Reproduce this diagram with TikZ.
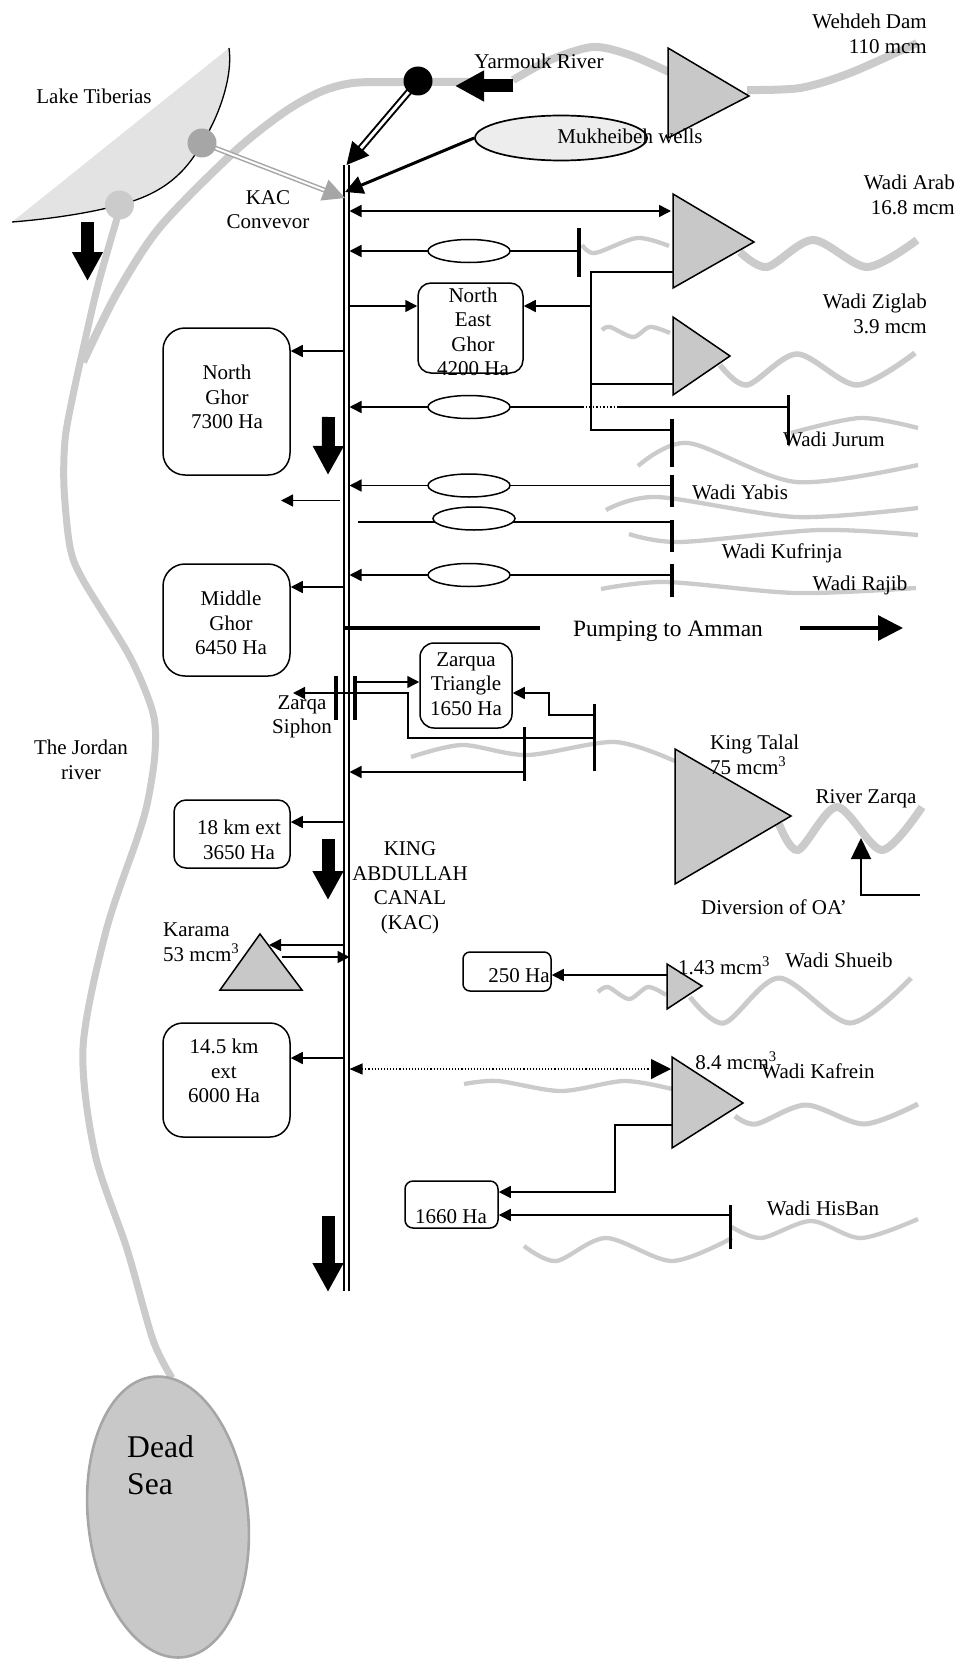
\documentclass[tikz,border=0pt]{standalone}
\usepackage{fontspec}
\setmainfont{Liberation Serif}
\usepackage{xcolor}
\usepackage{tikz}
\usetikzlibrary{positioning,arrows.meta,shapes.geometric}
\definecolor{rivgray}{HTML}{CBCBCB}
\definecolor{damgray}{HTML}{C8C8C8}
\definecolor{conv}{HTML}{A6A6A6}

\begin{document}
\begin{tikzpicture}[x=1pt, y=-1pt, font=\fontsize{21}{24.5}\selectfont]
\tikzstyle{riv}=[draw=rivgray, line width=8pt]
\tikzstyle{thinriv}=[draw=rivgray, line width=4.3pt]
\tikzstyle{dam}=[draw, line width=1.5pt, fill=damgray, line join=miter]
\tikzstyle{box}=[draw, line width=1.5pt, fill=white, inner sep=0pt]
\tikzstyle{ell}=[ellipse, draw, line width=1.5pt, fill=white, inner sep=0pt,
  minimum width=82pt, minimum height=23pt]
\tikzstyle{bar}=[fill=black, inner sep=0pt, minimum width=3.6pt]
\tikzstyle{txt}=[inner sep=0pt, align=center]
\tikzstyle{lin}=[line width=1.5pt]
\tikzstyle{arr}=[lin, -{Triangle[length=12pt,width=12pt]}]
\tikzstyle{blockarr}=[line width=13pt, -{Triangle[length=29pt,width=29pt]}]
\tikzstyle{pipe}=[double, double distance=3pt, line width=2pt]
\useasboundingbox (0,0) rectangle (962,1659);

\fill[gray!22] (229,48) .. controls (233,75) and (220,115) .. (202,143)
  .. controls (185,175) and (160,195) .. (119,205)
  .. controls (90,213) and (50,219) .. (12,222) -- cycle;
\draw[line width=1.3pt] (229,48) .. controls (233,75) and (220,115) .. (202,143)
  .. controls (185,175) and (160,195) .. (119,205)
  .. controls (90,213) and (50,219) .. (12,222);

\draw[riv] plot[smooth] coordinates {(470,82) (400,82) (353,83) (320,92) (283,113) (233,153) (160,227) (117,293) (83,362)};
\draw[riv, line width=7pt] plot[smooth] coordinates {(118,215) (98,285) (84,345) (72,400) (65,440) (64,487) (70,547) (83,580) (130,657) (153,713) (155,753) (148,800) (138,836) (106,931) (83,1048) (95,1154) (127,1249) (153,1340) (172,1378)};
\draw[riv] plot[smooth] coordinates {(513,80) (550,60) (593,47) (630,55) (669,72)};
\draw[riv] plot[smooth] coordinates {(747,90) (800,88) (850,73) (917,43)};
\draw[thinriv] plot[smooth] coordinates {(582,245) (595,253) (637,238) (669,246)};
\draw[riv] plot[smooth] coordinates {(740,252) (767,267) (813,240) (867,267) (917,240)};
\draw[thinriv] plot[smooth] coordinates {(602,330) (610,327) (633,337) (650,327) (670,333)};
\draw[riv, line width=5.5pt] plot[smooth] coordinates {(720,365) (747,385) (797,354) (857,385) (915,353)};
\draw[thinriv] plot[smooth] coordinates {(791,433) (860,418) (918,428)};
\draw[thinriv] plot[smooth] coordinates {(638,466) (688,443) (796,482) (918,465)};
\draw[thinriv] plot[smooth] coordinates {(606,510) (657,497) (796,517) (918,508)};
\draw[thinriv] plot[smooth] coordinates {(629,534) (680,542) (819,530) (918,535)};
\draw[thinriv] plot[smooth] coordinates {(601,589) (666,582) (796,593) (916,588)};
\draw[thinriv] plot[smooth] coordinates {(411,757) (462,745) (527,755) (615,742) (677,762)};
\draw[riv] plot[smooth] coordinates {(779,824) (798,850) (837,807) (882,850) (922,807)};
\draw[thinriv] plot[smooth] coordinates {(598,992) (608,987) (629,999) (648,987) (666,995)};
\draw[riv, line width=5pt] plot[smooth] coordinates {(690,997) (724,1023) (779,978) (850,1023) (911,978)};
\draw[thinriv] plot[smooth] coordinates {(464,1084) (498,1081) (561,1091) (624,1081) (672,1089)};
\draw[riv, line width=5pt] plot[smooth] coordinates {(735,1116) (756,1124) (806,1105) (864,1124) (918,1104)};
\draw[thinriv] plot[smooth] coordinates {(730,1226) (761,1238) (811,1221) (861,1238) (918,1219)};
\draw[thinriv] plot[smooth] coordinates {(524,1246) (556,1261) (606,1238) (672,1261) (732,1238)};

\node[ellipse, draw=conv, line width=2.6pt, fill=damgray, inner sep=0pt, rotate=6,
  minimum width=160pt, minimum height=282pt] (dead) at (168,1517) {};
\node[txt, align=left, anchor=west, font=\fontsize{31.6}{37.5}\selectfont] (deadt) at (127,1465) {Dead\\Sea};

\draw[dam] (668,48) -- (749,96) -- (668,138) -- cycle;
\draw[dam] (673,194) -- (754,242) -- (673,288) -- cycle;
\draw[dam] (673,317) -- (730,356) -- (673,395) -- cycle;
\draw[dam] (675,749) -- (791,816) -- (675,884) -- cycle;
\draw[dam] (667,964) -- (702,986) -- (667,1009) -- cycle;
\draw[dam] (672,1057) -- (743,1103) -- (672,1148) -- cycle;
\draw[dam] (260,934) -- (220,990) -- (302,990) -- cycle;

\coordinate (ctop) at (346.5,165);
\coordinate (cbot) at (346.5,1291);
\coordinate (cl) at (344.5,165);
\coordinate (cr) at (349.5,165);
\coordinate (arabw) at (671,211);
\coordinate (arabs) at (673,272);
\coordinate (zigs) at (673,384);
\coordinate (shuw) at (667,975);
\coordinate (kafw) at (671,1069);
\coordinate (kafs) at (672,1125);
\coordinate (karama) at (269,945);
\coordinate (karamb) at (282,957);
\coordinate (jct) at (591,272);
\coordinate (jcb) at (591,430);
\coordinate (dbt) at (672,419);
\coordinate (dbb) at (672,597);

\draw[pipe] (ctop) -- (cbot);

\node[box, rounded corners=13pt, minimum width=105pt, minimum height=90pt] (neg) at (470.5,328) {};
\node[box, rounded corners=22pt, minimum width=127pt, minimum height=147pt] (ng) at (226.5,401.5) {};
\node[box, rounded corners=22pt, minimum width=127pt, minimum height=112pt] (mg) at (226.5,620) {};
\node[box, rounded corners=14pt, minimum width=92pt, minimum height=85pt] (zt) at (466,685.5) {};
\node[box, rounded corners=12pt, minimum width=116pt, minimum height=68pt] (ext) at (232,834) {};
\node[box, rounded corners=7pt, minimum width=88pt, minimum height=39pt] (sh) at (507,971.5) {};
\node[box, rounded corners=20pt, minimum width=127pt, minimum height=114pt] (exb) at (226.5,1080) {};
\node[box, rounded corners=8pt, minimum width=93pt, minimum height=47pt] (hb) at (451.5,1204.5) {};

\node[bar, minimum height=49pt] (b1) at (579,252.5) {};
\node[bar, minimum height=50pt, minimum width=3pt] (b2) at (788,420) {};
\node[bar, minimum height=44pt] (zb1) at (336,698) {};
\node[bar, minimum height=44pt] (zb2) at (355,698) {};
\node[bar, minimum height=67pt, minimum width=3pt] (tb1) at (594,737) {};
\node[bar, minimum height=54pt, minimum width=3pt] (tb2) at (524,754) {};
\node[bar, minimum height=44pt, minimum width=3pt] (hbar) at (730,1226.5) {};
\draw[line width=3.3pt, dash pattern=on 48pt off 8pt on 32pt off 13pt on 32pt off 12pt on 33pt] (dbt) -- (dbb);

\draw[lin, {Triangle[length=12pt,width=12pt]}-{Triangle[length=12pt,width=12pt]}] (cr |- arabw) -- (arabw);
\draw[arr] (cl |- 0,351) -- (ng.east |- 0,351);
\draw[arr] (cr |- 0,306) -- (neg.west |- 0,306);
\draw[lin] (arabs) -- (jct) -- (jcb) -- (dbt |- jcb);
\draw[lin] (zigs) -- (jct |- zigs);
\draw[arr] (jct |- 0,306) -- (neg.east |- 0,306);

\draw[arr] (469,251) -- (cr |- 0,251);
\draw[lin] (469,251) -- (b1 |- 0,251);
\draw[arr] (469,407) -- (cr |- 0,407);
\draw[lin] (469,407) -- (582,407);
\draw[lin, dotted] (582,407) -- (617,407);
\draw[lin] (617,407) -- (b2 |- 0,407);
\draw[arr] (469,485.5) -- (cr |- 0,485.5);
\draw[lin] (469,485.5) -- (dbt |- 0,485.5);
\draw[lin] (358,522) -- (dbt |- 0,522);
\draw[arr] (469,575) -- (cr |- 0,575);
\draw[lin] (469,575) -- (dbt |- 0,575);
\node[ell] (e1) at (469,251) {};
\node[ell] (e2) at (469,407) {};
\node[ell] (e3) at (469,485.5) {};
\node[ell] (e4) at (474,518.5) {};
\node[ell] (e5) at (469,575) {};

\draw[arr] (340,500.5) -- (281,500.5);
\draw[arr] (cl |- 0,587) -- (mg.east |- 0,587);
\draw[line width=3.2pt] (cl |- 0,628) -- (540,628);
\draw[line width=3.2pt, -{Triangle[length=25pt,width=25pt]}] (800,628) -- (903,628);

\draw[arr] (zb2 |- 0,682) -- (zt.west |- 0,682);
\draw[arr] (tb1 |- 0,738) -- (408,738) -- (408,693) -- (293,693);
\draw[arr] (tb1 |- 0,715) -- (549,715) -- (549,693) -- (zt.east |- 0,693);
\draw[arr] (tb2 |- 0,772) -- (cr |- 0,772);
\draw[arr] (cl |- 0,822) -- (ext.east |- 0,822);
\draw[arr] (cl |- karama) -- (karama);
\draw[arr] (karamb) -- (cr |- karamb);
\draw[arr] (shuw) -- (sh.east |- shuw);
\draw[arr] (cl |- 0,1058) -- (exb.east |- 0,1058);
\draw[line width=1.1pt, dotted, {Triangle[length=13pt,width=11pt]}-{Triangle[length=20pt,width=20pt]}] (cr |- kafw) -- (kafw);
\draw[arr] (kafs) -- (615,1125) -- (615,1192) -- (hb.east |- 0,1192);
\draw[arr] (hbar |- 0,1215) -- (hb.east |- 0,1215);
\draw[lin, -{Triangle[length=21pt,width=20pt]}] (920,895) -- (861,895) -- (861,838);

\node[ellipse, draw, line width=1.7pt, fill=black!7, inner sep=0pt,
  minimum width=172pt, minimum height=45pt] (muk) at (561,138) {};
\draw[line width=3pt, -{Triangle[length=18pt,width=18pt]}] (muk.west) -- (345,192);

\draw[pipe, -{Triangle[length=22pt,width=22pt]}] (418,81) -- (ctop);
\draw[pipe, draw=conv, double distance=2pt, line width=1.5pt, -{Triangle[length=22pt,width=22pt]}] (202,143) -- (345,198);
\node[circle, fill=black, inner sep=0pt, minimum size=29pt] (yb) at (418,81) {};
\node[circle, fill=conv, inner sep=0pt, minimum size=29pt] (lt1) at (202,143) {};
\node[circle, fill=rivgray, inner sep=0pt, minimum size=29pt] (lt2) at (119.5,205) {};

\draw[blockarr] (513,86) -- (455,86);
\draw[blockarr] (87.5,222) -- (87.5,281);
\draw[blockarr] (328.5,417) -- (328,475);
\draw[blockarr] (328,839) -- (328,900);
\draw[blockarr] (328,1216) -- (328,1292);

\node[txt] (lake) at (94,96) {Lake Tiberias};
\node[txt] (convt) at (268,209.5) {KAC\\Convevor};
\node[txt] (yar) at (539,61) {Yarmouk River};
\node[txt] (mukt) at (630,136) {Mukheibeh wells};
\node[txt, align=right, anchor=east] (weh) at (927,34) {Wehdeh Dam\\110 mcm};
\node[txt, align=right, anchor=east] (arab) at (955,195) {Wadi Arab\\16.8 mcm};
\node[txt, align=right, anchor=east] (zig) at (927,314) {Wadi Ziglab\\3.9 mcm};
\node[txt] (neglab) at (473,332) {North\\East\\Ghor\\4200 Ha};
\node[txt] (nglab) at (227,397) {North\\Ghor\\7300 Ha};
\node[txt] (jur) at (834,439) {Wadi Jurum};
\node[txt] (yab) at (740,492) {Wadi Yabis};
\node[txt] (kuf) at (782,553) {Wadi Kufrinja};
\node[txt] (raj) at (860,585) {Wadi Rajib};
\node[txt] (mglab) at (231,623) {Middle\\Ghor\\6450 Ha};
\node[txt, font=\fontsize{23.4}{27}\selectfont] (pump) at (668,631) {Pumping to Amman};
\node[txt] (ztlab) at (466,684) {Zarqua\\Triangle\\1650 Ha};
\node[txt] (siph) at (302,717) {Zarqa\\Siphon};
\node[txt, align=left, anchor=west] (tal) at (710,755) {King Talal\\75 mcm\textsuperscript{3}};
\node[txt] (zarq) at (866,799) {River Zarqa};
\node[txt] (jor) at (81,760) {The Jordan\\river};
\node[txt] (extlab) at (239,840) {18 km ext\\3650 Ha};
\node[txt] (kac) at (410,888) {KING\\ABDULLAH\\CANAL\\(KAC)};
\node[txt] (oa) at (774,907) {Diversion of OA’};
\node[txt, align=left, anchor=west] (kar) at (163,942) {Karama\\53 mcm\textsuperscript{3}};
\node[txt] (shlab) at (519,976) {250 Ha};
\node[txt] (sh143) at (724,966) {1.43 mcm\textsuperscript{3}};
\node[txt] (shu) at (839,960) {Wadi Shueib};
\node[txt] (kaf84) at (736,1061) {8.4 mcm\textsuperscript{3}};
\node[txt] (kaf) at (818,1071) {Wadi Kafrein};
\node[txt] (exblab) at (224,1071) {14.5 km\\ext\\6000 Ha};
\node[txt] (his) at (823,1208) {Wadi HisBan};
\node[txt] (hblab) at (451,1217) {1660 Ha};
\end{tikzpicture}
\end{document}
